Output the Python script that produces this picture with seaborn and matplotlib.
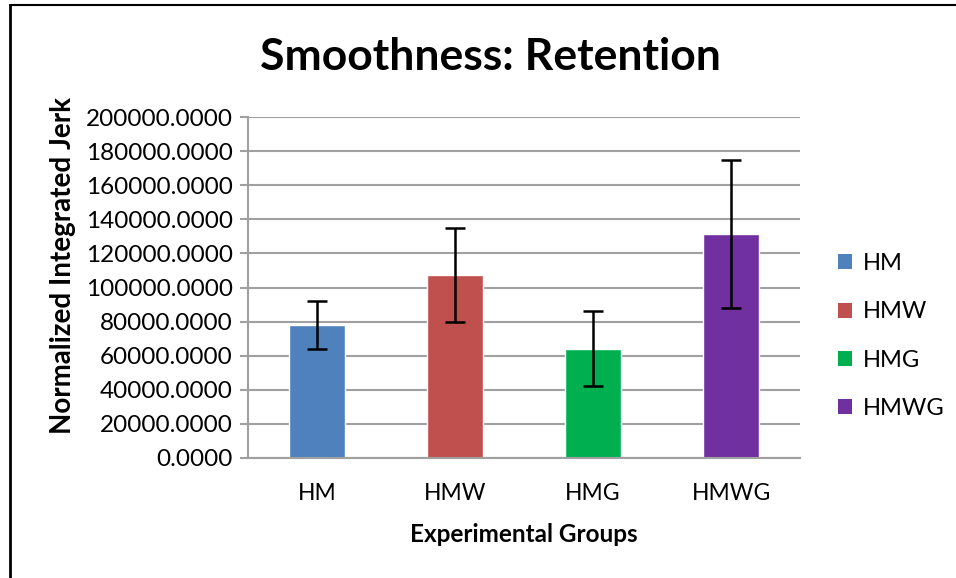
import matplotlib
matplotlib.use("Agg")
import matplotlib.pyplot as plt
from matplotlib.ticker import FuncFormatter, MultipleLocator
from matplotlib.patches import Patch
from matplotlib.lines import Line2D
import seaborn as sns
import pandas as pd

groups = ["HM", "HMW", "HMG", "HMWG"]
means = [78000, 107500, 64000, 131500]
errors = [14000, 27500, 22000, 43500]
colors = ["#4F81BD", "#C0504D", "#00B050", "#7030A0"]

sns.set_theme(style="white")
plt.rcParams["font.family"] = ["Lato", "DejaVu Sans"]

df = pd.DataFrame({"group": groups, "mean": means})

fig = plt.figure(figsize=(9.56, 5.78), dpi=100)
ax = fig.add_axes([248/956, 1-458/578, 552/956, 341/578])

sns.barplot(data=df, x="group", y="mean", hue="group", palette=colors,
            width=0.4, ax=ax, legend=False, saturation=1)
ax.errorbar(range(len(groups)), means, yerr=errors, fmt="none",
            ecolor="black", elinewidth=1.8, capsize=7, capthick=1.8, zorder=5)

ax.set_ylim(0, 200000)
ax.set_xlim(-0.5, 3.5)
ax.yaxis.set_major_locator(MultipleLocator(20000))
ax.yaxis.set_major_formatter(FuncFormatter(lambda v, p: f"{v:.4f}"))
ax.grid(axis="y", color="#A0A0A0", linewidth=1.5)
ax.set_axisbelow(True)
for s in ["top", "right"]:
    ax.spines[s].set_visible(False)
ax.spines["left"].set_color("#A0A0A0")
ax.spines["left"].set_linewidth(1.5)
ax.spines["bottom"].set_color("#A0A0A0")
ax.spines["bottom"].set_linewidth(1.5)
ax.tick_params(axis="y", which="major", left=True, length=6, width=1.5,
               color="#A0A0A0", labelsize=17.5, pad=5, labelcolor="black")
ax.tick_params(axis="x", bottom=False, labelsize=16.5, pad=12, labelcolor="black")

ax.set_xlabel("Experimental Groups", fontsize=17.5, fontweight="bold", labelpad=14,
              color="black")
ax.set_ylabel("Normalized Integrated Jerk", fontsize=20, fontweight="bold",
              color="black")
ax.yaxis.set_label_coords((76 - 248) / 552, (458 - 266) / 341)

fig.text(490/956, 1-57/578, "Smoothness: Retention", ha="center", va="center",
         fontsize=32, fontweight="bold", color="black")

handles = [Patch(facecolor=c, edgecolor="none") for c in colors]
leg = fig.legend(handles, groups, loc="center left", bbox_to_anchor=(817/956, 1-336/578),
                 frameon=False, fontsize=17, handlelength=0.6, handleheight=0.6,
                 labelspacing=1.15, handletextpad=0.45)
for t in leg.get_texts():
    t.set_color("black")

fig.add_artist(Line2D([9.5/956, 9.5/956], [0, 1-5/578], color="black", linewidth=2,
                      transform=fig.transFigure))
fig.add_artist(Line2D([9.5/956, 1], [1-5/578, 1-5/578], color="black", linewidth=1.5,
                      transform=fig.transFigure))

fig.savefig("out.png", dpi=100)
